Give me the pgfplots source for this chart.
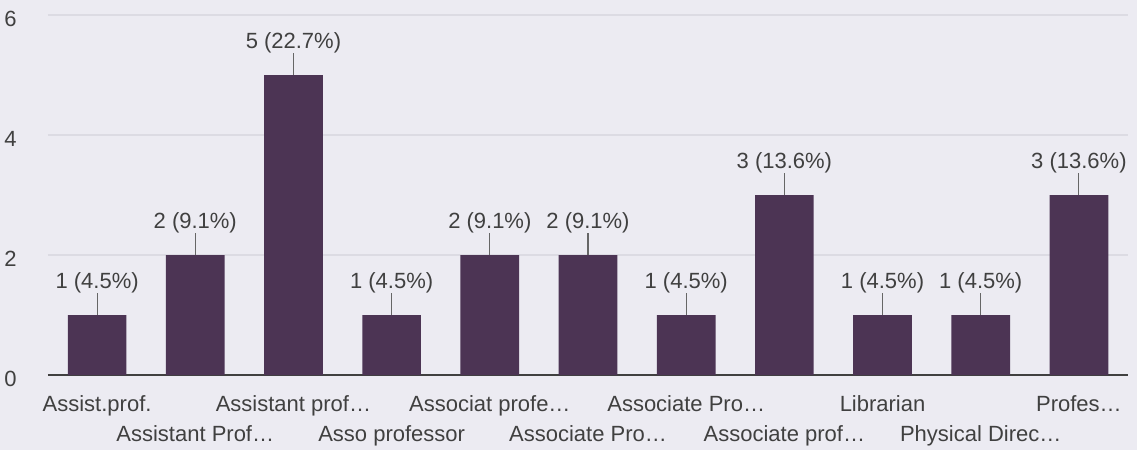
\documentclass[border=0pt]{standalone}
\usepackage{pgfplots}
\pgfplotsset{compat=1.18}
\usepackage{pgfplotstable}
\usepackage{fontspec}
\setmainfont{Liberation Sans}

\definecolor{barcol}{HTML}{4C3454}
\definecolor{bgcol}{HTML}{ECEBF2}
\definecolor{gridcol}{HTML}{DCDBE3}
\definecolor{txtcol}{HTML}{404040}

% counts per designation (22 responses)
\pgfplotstableread{
x y label
0  1 {1 (4.5\%)}
1  2 {2 (9.1\%)}
2  5 {5 (22.7\%)}
3  1 {1 (4.5\%)}
4  2 {2 (9.1\%)}
5  2 {2 (9.1\%)}
6  1 {1 (4.5\%)}
7  3 {3 (13.6\%)}
8  1 {1 (4.5\%)}
9  1 {1 (4.5\%)}
10 3 {3 (13.6\%)}
}\designations

\begin{document}
\begin{tikzpicture}
\fill[bgcol] (-36pt,-56.25pt) rectangle (816.75pt,281.25pt);
\begin{axis}[
    at={(0,0)}, anchor=south west,
    width=810pt, height=270pt, scale only axis,
    xmin=-0.5, xmax=10.5,
    ymin=0, ymax=6,
    ytick={0,2,4,6},
    /pgf/number format/assume math mode=true,
    ymajorgrids=true,
    grid style={gridcol, line width=0.8pt},
    axis x line*=bottom,
    axis y line*=left,
    y axis line style={draw=none},
    x axis line style={draw=black!75, line width=1.2pt, -},
    xtick={0,2,4,6,8,10},
    xticklabels={Assist.prof., Assistant prof…, Associat profe…, Associate Pro…, Librarian, Profes…},
    extra x ticks={1,3,5,7,9},
    extra x tick labels={Assistant Prof…, Asso professor, Associate Pro…, Associate prof…, Physical Direc…},
    extra x tick style={tick label style={yshift=-22.5pt}},
    major tick length=0pt,
    tick style={draw=none},
    xticklabel style={text=txtcol, font=\fontsize{16.5}{19}\selectfont, yshift=-12pt},
    yticklabel style={text=txtcol, font=\fontsize{16.5}{19}\selectfont, xshift=-20pt, yshift=-3pt},
    ybar, bar width=44pt,
    nodes near coords,
    point meta=explicit symbolic,
    every node near coord/.append style={anchor=base, yshift=20pt, text=txtcol, font=\fontsize{16.5}{19}\selectfont},
    clip=false,
]
\addplot[fill=barcol, draw=none,
    error bars/.cd, y dir=plus, y fixed=0.36, error mark=none,
    error bar style={draw=gray!80!black, line width=0.8pt}]
    table[x=x, y=y, meta=label] {\designations};
\end{axis}
\pgfresetboundingbox
\path[use as bounding box] (-36pt,-56.25pt) rectangle (816.75pt,281.25pt);
\end{tikzpicture}
\end{document}
